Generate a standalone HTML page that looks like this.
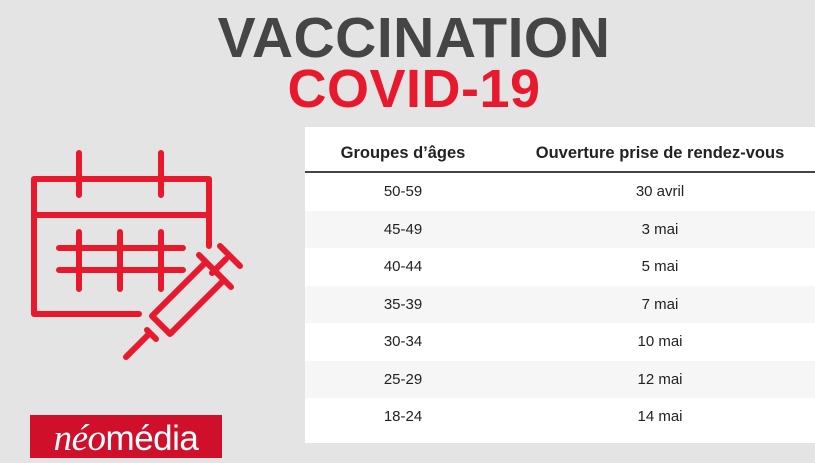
<!DOCTYPE html>
<html><head><meta charset="utf-8"><style>
body{margin:0;width:815px;height:458px;background:#e4e4e4;position:relative;overflow:hidden;font-family:"Liberation Sans",sans-serif}
.t1{position:absolute;left:0;width:828px;top:5px;text-align:center;font-weight:bold;font-size:57px;color:#454545;letter-spacing:0.5px}
.t2{position:absolute;left:0;width:828px;top:58px;text-align:center;font-weight:bold;font-size:54px;color:#e8192c;letter-spacing:0.5px}
.box{position:absolute;left:305px;top:127px;width:510px;height:316px;background:#fff}
.row{position:absolute;left:0;width:510px;height:37.5px;font-size:15px;color:#222}
.row span{position:absolute;top:10px;transform:translateX(-50%);white-space:nowrap}
.hd{position:absolute;top:17px;font-size:16.5px;font-weight:bold;color:#222;transform:translateX(-50%);white-space:nowrap}
.line{position:absolute;left:0;top:44px;width:510px;height:2px;background:#444}
.logo{position:absolute;left:30px;top:415px;width:192px;height:43px;background:#d0102a;color:#fff;font-size:37px;line-height:48px;text-align:center;font-family:"Liberation Serif",serif;white-space:nowrap;letter-spacing:-0.5px}
.logo b{font-family:"Liberation Sans",sans-serif;font-weight:normal;font-size:35px}
</style></head><body>
<div class="t1">VACCINATION</div>
<div class="t2">COVID-19</div>
<div class="box">
<div class="hd" style="left:98px">Groupes d’âges</div>
<div class="hd" style="left:355px">Ouverture prise de rendez-vous</div>
<div class="line"></div>
<div class="row" style="top:46px"><span style="left:98px">50-59</span><span style="left:355px">30 avril</span></div>
<div class="row" style="top:83.5px;background:#f6f6f6"><span style="left:98px">45-49</span><span style="left:355px">3 mai</span></div>
<div class="row" style="top:121px"><span style="left:98px">40-44</span><span style="left:355px">5 mai</span></div>
<div class="row" style="top:158.5px;background:#f6f6f6"><span style="left:98px">35-39</span><span style="left:355px">7 mai</span></div>
<div class="row" style="top:196px"><span style="left:98px">30-34</span><span style="left:355px">10 mai</span></div>
<div class="row" style="top:233.5px;background:#f6f6f6"><span style="left:98px">25-29</span><span style="left:355px">12 mai</span></div>
<div class="row" style="top:271px"><span style="left:98px">18-24</span><span style="left:355px">14 mai</span></div>
</div>
<svg style="position:absolute;left:0;top:0" width="300" height="400" fill="none" stroke="#e8192c" stroke-width="6" stroke-linecap="round" stroke-linejoin="round">
<path d="M139 314 H34 V179 H209 V246"/>
<path d="M34 215 H209"/>
<path d="M79 153 V195 M161 153 V195"/>
<path d="M59 248 H183 M59 270 H183 M79 232 V289 M120 232 V289 M161 232 V289"/>
<path d="M152 316 L206 262 M170 334 L224 280 M152 316 L170 334"/>
<path d="M147 330 L156 339 M148 335 L126 357"/>
<path d="M199 255 L231 287 M212 273 L226 259 M220 246 L240 266"/>
</svg>
<div class="logo"><i>néo</i><b>média</b></div>
</body></html>
